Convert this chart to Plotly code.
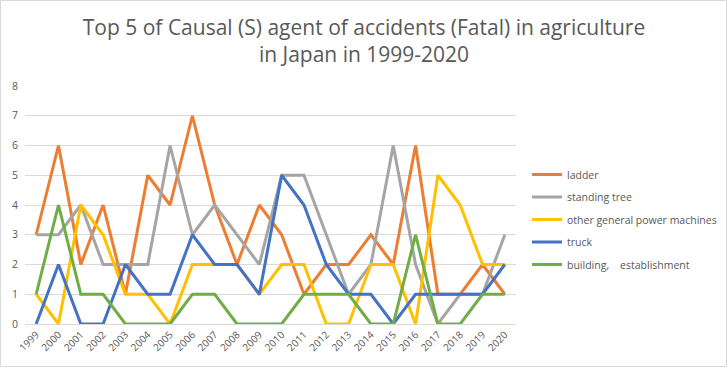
import plotly.graph_objects as go

years = [str(y) for y in range(1999, 2021)]
ladder = [3, 6, 2, 4, 1, 5, 4, 7, 4, 2, 4, 3, 1, 2, 2, 3, 2, 6, 1, 1, 2, 1]
standing_tree = [3, 3, 4, 2, 2, 2, 6, 3, 4, 3, 2, 5, 5, 3, 1, 2, 6, 2, 0, 1, 1, 3]
power_machines = [1, 0, 4, 3, 1, 1, 0, 2, 2, 2, 1, 2, 2, 0, 0, 2, 2, 0, 5, 4, 2, 2]
truck = [0, 2, 0, 0, 2, 1, 1, 3, 2, 2, 1, 5, 4, 2, 1, 1, 0, 1, 1, 1, 1, 2]
building = [1, 4, 1, 1, 0, 0, 0, 1, 1, 0, 0, 0, 1, 1, 1, 0, 0, 3, 0, 0, 1, 1]

series = [
    ("ladder", ladder, "#ED7D31"),
    ("standing tree", standing_tree, "#A5A5A5"),
    ("other general power machines", power_machines, "#FFC000"),
    ("truck", truck, "#4472C4"),
    ("building,\u3000establishment", building, "#70AD47"),
]

fig = go.Figure()
for i, (name, vals, col) in enumerate(series):
    fig.add_trace(go.Scatter(x=years, y=vals, name=name, mode="lines", legendgroup=f"g{i}",
                             line=dict(color=col, width=3)))

W, H = 728, 368
L, R, T, B = 25, 212, 86, 44
pw, ph = W - L - R, H - T - B

fig.update_layout(
    width=W, height=H,
    margin=dict(l=L, r=R, t=T, b=B, autoexpand=False),
    paper_bgcolor="white", plot_bgcolor="white",
    font=dict(family="Open Sans", color="#595959"),
    title=dict(text="Top 5 of Causal (S) agent of accidents (Fatal) in agriculture<br>in Japan in 1999-2020",
               x=0.5, xanchor="center", y=0.905, yanchor="top",
               font=dict(size=21, color="#595959")),
    xaxis=dict(type="category", tickangle=-45, tickfont=dict(size=10, color="#595959"),
               showgrid=False, showline=True, linecolor="#D9D9D9", linewidth=1,
               range=[-0.5, 21.5], ticks=""),
    yaxis=dict(range=[0, 8], dtick=1, tickfont=dict(size=10.5, color="#595959"),
               showgrid=True, gridcolor="#D9D9D9", gridwidth=1, zeroline=False,
               showline=False, ticks="", ticklabelstandoff=6),
    legend=dict(x=(527 - L) / pw, y=1 - (160 - T) / ph, xanchor="left", yanchor="top",
                font=dict(size=10.5, color="#595959"), tracegroupgap=3.5,
                itemwidth=30, bgcolor="rgba(0,0,0,0)"),
    shapes=[dict(type="rect", xref="paper", yref="paper",
                 x0=(0.5 - L) / pw, x1=(W - 1.5 - L) / pw,
                 y0=-(B - 1.5) / ph, y1=1 + (T - 0.5) / ph,
                 line=dict(color="#D9D9D9", width=1), fillcolor="rgba(0,0,0,0)", layer="below")],
)

fig.write_html("out.html", config={"displayModeBar": False},
               post_script="document.body.style.margin='0';")
